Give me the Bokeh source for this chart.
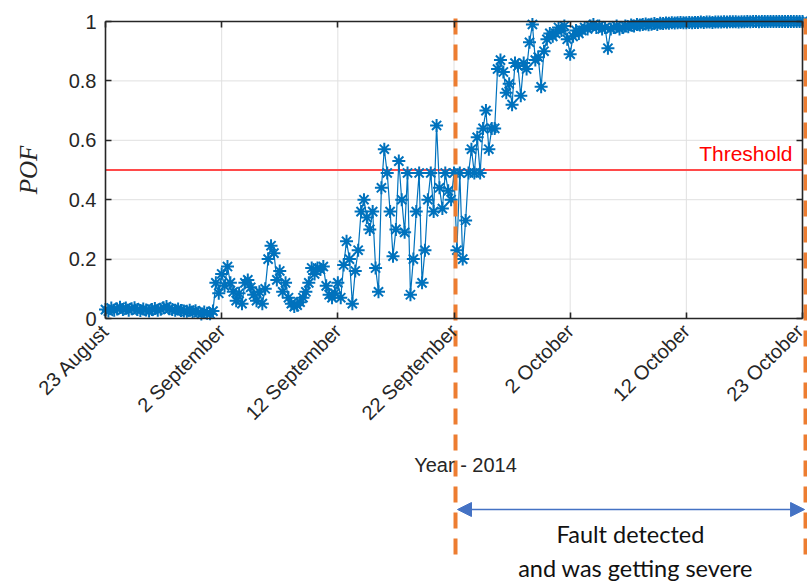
import math
from bokeh.plotting import figure
from bokeh.models import LinearAxis, Range1d, FixedTicker, Label, Arrow, NormalHead
from bokeh.embed import file_html
from bokeh.resources import INLINE

# ---------------- data ----------------
tick_days = [0, 10, 20, 30, 40, 50, 60]
tick_labels = ["23 August", "2 September", "12 September", "22 September",
               "2 October", "12 October", "23 October"]
y_ticks = [0, 0.2, 0.4, 0.6, 0.8, 1.0]
y_tick_labels = ["0", "0.2", "0.4", "0.6", "0.8", "1"]
samples_per_day = 4
threshold = 0.5
fault_day = 30.13
end_day = 60.26

pof_aug23_sep01 = [
    0.030, 0.025, 0.035, 0.028, 0.032, 0.038, 0.030, 0.035,
    0.028, 0.033, 0.036, 0.030, 0.027, 0.032, 0.029, 0.025,
    0.030, 0.034, 0.028, 0.031, 0.036, 0.040, 0.033, 0.030,
    0.028, 0.032, 0.027, 0.025, 0.024, 0.028, 0.022, 0.026,
    0.020, 0.015, 0.022, 0.018, 0.016, 0.025, 0.120, 0.085]
pof_sep02_sep11 = [
    0.150, 0.110, 0.175, 0.120, 0.090, 0.060, 0.085, 0.050,
    0.120, 0.130, 0.105, 0.080, 0.060, 0.090, 0.050, 0.100,
    0.200, 0.245, 0.220, 0.130, 0.160, 0.090, 0.120, 0.070,
    0.050, 0.040, 0.045, 0.055, 0.070, 0.090, 0.120, 0.170,
    0.150, 0.170, 0.165, 0.175, 0.110, 0.080, 0.070, 0.085]
pof_sep12_sep21 = [
    0.120, 0.070, 0.180, 0.260, 0.200, 0.050, 0.160, 0.230,
    0.360, 0.400, 0.340, 0.300, 0.360, 0.170, 0.090, 0.440,
    0.570, 0.490, 0.360, 0.210, 0.300, 0.530, 0.400, 0.290,
    0.490, 0.080, 0.200, 0.360, 0.490, 0.120, 0.230, 0.400,
    0.490, 0.360, 0.650, 0.440, 0.370, 0.490, 0.430, 0.400]
pof_sep22_oct01 = [
    0.490, 0.230, 0.490, 0.200, 0.330, 0.490, 0.570, 0.490,
    0.610, 0.490, 0.640, 0.700, 0.570, 0.640, 0.640, 0.840,
    0.870, 0.830, 0.760, 0.790, 0.720, 0.860, 0.850, 0.750,
    0.860, 0.840, 0.930, 0.990, 0.870, 0.880, 0.780, 0.900,
    0.940, 0.960, 0.950, 0.960, 0.980, 0.970, 0.985, 0.940]
pof_oct02_oct11 = [
    0.890, 0.950, 0.970, 0.960, 0.970, 0.980, 0.975, 0.985,
    0.990, 0.980, 0.985, 0.975, 0.980, 0.910, 0.975, 0.980,
    0.985, 0.975, 0.980, 0.985, 0.982, 0.988, 0.985, 0.990,
    0.988, 0.990, 0.992, 0.989, 0.991, 0.993, 0.990, 0.994,
    0.993, 0.995, 0.994, 0.996, 0.995, 0.996, 0.997, 0.996]
pof_oct12_oct23 = [
    0.996, 0.997, 0.996, 0.997, 0.997, 0.998, 0.997, 0.998,
    0.998, 0.997, 0.998, 0.998, 0.998, 0.999, 0.998, 0.999,
    0.999, 0.999, 0.998, 0.999, 0.999, 1.000, 0.999, 1.000,
    1.000, 0.999, 1.000, 1.000, 1.000, 1.000, 1.000, 1.000,
    1.000, 1.000, 1.000, 1.000, 1.000, 1.000, 1.000, 1.000,
    1.000]

pof = (pof_aug23_sep01 + pof_sep02_sep11 + pof_sep12_sep21 +
       pof_sep22_oct01 + pof_oct02_oct11 + pof_oct12_oct23)
days = [i / samples_per_day for i in range(len(pof))]

# ---------------- figure ----------------
W, H = 807, 581
px_per_day = 697 / 60.0
px_per_unit = 297.0
x0_px, y0_px = 105, 318
x_range = Range1d(-x0_px / px_per_day, (W - x0_px) / px_per_day)
y_range = Range1d(-(H - y0_px) / px_per_unit, y0_px / px_per_unit)

p = figure(width=W, height=H, output_backend="svg", toolbar_location=None,
           x_range=x_range, y_range=y_range,
           x_axis_location=None, y_axis_location=None,
           min_border=0, outline_line_color=None,
           background_fill_color="white", border_fill_color="white")
for g in p.grid:
    g.visible = False

sans = "Liberation Sans"
axis_color = "#262626"
grid_color = "#e0e0e0"

# grid lines (bounded to the axes box)
p.segment(x0=tick_days[1:-1], y0=[0] * 5, x1=tick_days[1:-1], y1=[1] * 5,
          line_color=grid_color, line_width=1)
p.segment(x0=[0] * 4, y0=y_ticks[1:-1], x1=[60] * 4, y1=y_ticks[1:-1],
          line_color=grid_color, line_width=1)


def style(ax, labels=True):
    ax.axis_line_color = axis_color
    ax.axis_line_width = 1.6
    ax.major_tick_line_color = axis_color
    ax.major_tick_line_width = 1.6
    ax.major_tick_in = 6
    ax.major_tick_out = 0
    ax.minor_tick_line_color = None
    ax.major_label_text_color = axis_color
    ax.major_label_text_font = sans
    if not labels:
        ax.major_label_standoff = 0


left = LinearAxis(fixed_location=0, bounds=(0, 1), ticker=FixedTicker(ticks=y_ticks),
                  major_label_overrides=dict(zip(y_ticks, y_tick_labels)),
                  axis_label="POF")
style(left)
left.major_label_text_font_size = "20px"
left.major_label_standoff = 9
left.axis_label_text_font = "Liberation Serif"
left.axis_label_text_font_style = "italic"
left.axis_label_text_font_size = "25px"
left.axis_label_text_color = axis_color
left.axis_label_standoff = 24
p.add_layout(left, "left")

right = LinearAxis(fixed_location=60, bounds=(0, 1), ticker=FixedTicker(ticks=y_ticks),
                   major_label_overrides={t: "" for t in y_ticks})
style(right, labels=False)
p.add_layout(right, "right")

bottom = LinearAxis(fixed_location=0, bounds=(0, 60), ticker=FixedTicker(ticks=tick_days),
                    major_label_overrides=dict(zip(tick_days, tick_labels)))
style(bottom)
bottom.major_label_text_font_size = "20px"
bottom.major_label_orientation = math.pi / 4
bottom.major_label_standoff = 9
p.add_layout(bottom, "below")

top = LinearAxis(fixed_location=1, bounds=(0, 60), ticker=FixedTicker(ticks=tick_days),
                 major_label_overrides={t: "" for t in tick_days})
style(top, labels=False)
p.add_layout(top, "above")

# threshold
p.line(x=[0, 60], y=[threshold, threshold], line_color="#ff4a4a", line_width=2)

# data
p.line(x=days, y=pof, line_color="#0072BD", line_width=1.2)
p.scatter(x=days, y=pof, marker="asterisk", size=13, line_color="#0072BD", line_width=2)

p.add_layout(Label(x=59.14, y=threshold + 0.055, text="Threshold", text_align="right",
                   text_baseline="alphabetic", text_color="#ff0000",
                   text_font=sans, text_font_size="21px"))

# event markers
top_v = (y0_px - 18) / px_per_unit
bot_v = (y0_px - 560) / px_per_unit
p.segment(x0=[fault_day, end_day], y0=[top_v, top_v], x1=[fault_day, end_day], y1=[bot_v, bot_v],
          line_color="#ED7D31", line_width=4, line_dash="16 10")

# annotations below axis
p.add_layout(Label(x=(465 - x0_px) / px_per_day, y=(y0_px - 464) / px_per_unit,
                   text="Year - 2014", text_align="center", text_baseline="middle",
                   text_color=axis_color, text_font=sans, text_font_size="20px"))

arrow_y = (y0_px - 509) / px_per_unit
blue = "#4472C4"
p.add_layout(Arrow(x_start=fault_day + 0.17, y_start=arrow_y, x_end=end_day - 0.08, y_end=arrow_y,
                   line_color=blue, line_width=1.6,
                   start=NormalHead(size=14, fill_color=blue, line_color=blue),
                   end=NormalHead(size=14, fill_color=blue, line_color=blue)))

p.add_layout(Label(x=(630 - x0_px) / px_per_day, y=(y0_px - 533) / px_per_unit,
                   text="Fault detected", text_align="center", text_baseline="middle",
                   text_color="#111111", text_font="Lato", text_font_size="23.5px"))
p.add_layout(Label(x=(635 - x0_px) / px_per_day, y=(y0_px - 567) / px_per_unit,
                   text="and was getting severe", text_align="center", text_baseline="middle",
                   text_color="#111111", text_font="Lato", text_font_size="23.5px"))

open("out.html", "w").write(file_html(p, INLINE))
